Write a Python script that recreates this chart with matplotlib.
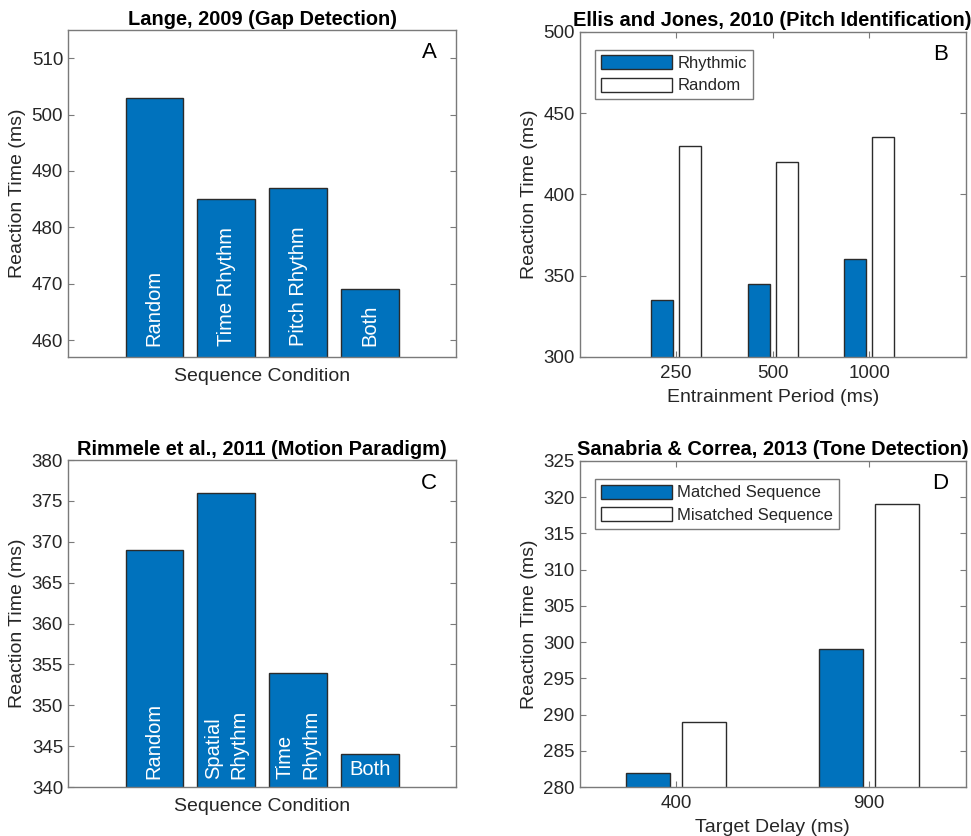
import numpy as np
import matplotlib
matplotlib.use('Agg')
import matplotlib.pyplot as plt

plt.rcParams['font.family'] = ['Liberation Sans', 'DejaVu Sans']

# reaction times (ms) for each study
lange_conditions = ['Random', 'Time Rhythm', 'Pitch Rhythm', 'Both']
lange_rt = [503, 485, 487, 469]

ellis_periods = ['250', '500', '1000']
ellis_rhythmic = [335, 345, 360]
ellis_random = [430, 420, 435]

rimmele_conditions = ['Random', 'Spatial\nRhythm', 'Time\nRhythm', 'Both']
rimmele_rt = [369, 376, 354, 344]

sanabria_delays = ['400', '900']
sanabria_matched = [282, 299]
sanabria_mismatched = [289, 319]

BLUE = '#0072BD'
EDGE = '#2b2b2b'
AXCOL = '#7a7a7a'
TXT = '#262626'


def style_axes(ax, xticks=True):
    for sp in ax.spines.values():
        sp.set_color(AXCOL)
        sp.set_linewidth(1.0)
    ax.tick_params(axis='y', direction='in', left=True, right=True,
                   length=4, color=AXCOL, labelsize=13.5, labelcolor=TXT)
    if xticks:
        ax.tick_params(axis='x', direction='in', bottom=True, top=True,
                       length=4, color=AXCOL, labelsize=13.5, labelcolor=TXT,
                       pad=6)
    else:
        ax.tick_params(axis='x', bottom=False, labelbottom=False)
    ax.set_ylabel('Reaction Time (ms)', fontsize=14, color=TXT)


def condition_panel(ax, labels, values, ylim, yticks, title, letter,
                    label_base, upright=()):
    x = np.arange(1, len(values) + 1)
    ax.bar(x, values, width=0.8, color=BLUE, edgecolor=EDGE, linewidth=1.0)
    for xi, lab in zip(x, labels):
        if lab in upright:
            ax.text(xi, label_base, lab, ha='center', va='bottom',
                    color='white', fontsize=14.5)
        else:
            ax.text(xi, label_base, lab, rotation=90, ha='center', va='bottom',
                    multialignment='left', linespacing=1.45, color='white',
                    fontsize=14.5)
    ax.set_xlim(-0.2, 5.2)
    ax.set_ylim(*ylim)
    ax.set_yticks(yticks)
    style_axes(ax, xticks=False)
    ax.set_xlabel('Sequence Condition', fontsize=14, color=TXT, labelpad=8)
    ax.set_title(title, fontsize=14.4, fontweight='bold', pad=4)
    ax.text(0.93, 0.93, letter, transform=ax.transAxes, ha='center',
            va='center', fontsize=16, color='black')


def grouped_panel(ax, ticklabels, first, second, names, xlim, ylim, yticks,
                  title, letter, xlabel):
    x = np.arange(1, len(first) + 1)
    ax.bar(x - 0.145, first, width=0.23, color=BLUE, edgecolor=EDGE,
           linewidth=1.0, label=names[0])
    ax.bar(x + 0.145, second, width=0.23, color='white', edgecolor=EDGE,
           linewidth=1.0, label=names[1])
    ax.set_xlim(*xlim)
    ax.set_ylim(*ylim)
    ax.set_yticks(yticks)
    ax.set_xticks(x)
    ax.set_xticklabels(ticklabels)
    style_axes(ax)
    ax.set_xlabel(xlabel, fontsize=14, color=TXT, labelpad=5)
    ax.set_title(title, fontsize=14.4, fontweight='bold', pad=4)
    ax.text(0.935, 0.93, letter, transform=ax.transAxes, ha='center',
            va='center', fontsize=16, color='black')
    leg = ax.legend(loc='upper left', bbox_to_anchor=(0.039, 0.945),
                    fontsize=12, handlelength=4.3, handleheight=0.9,
                    handletextpad=0.3, borderpad=0.35, labelspacing=0.4,
                    fancybox=False, framealpha=1, edgecolor=AXCOL,
                    borderaxespad=0)
    leg.get_frame().set_linewidth(1.0)
    for t in leg.get_texts():
        t.set_color(TXT)


fig = plt.figure(figsize=(9.71, 8.36), dpi=100)
ax_a = fig.add_axes([0.070, 0.573, 0.400, 0.391])
ax_b = fig.add_axes([0.597, 0.573, 0.3975, 0.389])
ax_c = fig.add_axes([0.070, 0.0586, 0.400, 0.391])
ax_d = fig.add_axes([0.597, 0.0586, 0.3975, 0.390])

condition_panel(ax_a, lange_conditions, lange_rt, (457, 515),
                np.arange(460, 511, 10), 'Lange, 2009 (Gap Detection)', 'A', 459)
grouped_panel(ax_b, ellis_periods, ellis_rhythmic, ellis_random,
              ['Rhythmic', 'Random'], (0, 4), (300, 500),
              np.arange(300, 501, 50),
              'Ellis and Jones, 2010 (Pitch Identification)', 'B',
              'Entrainment Period (ms)')
condition_panel(ax_c, rimmele_conditions, rimmele_rt, (340, 380),
                np.arange(340, 381, 5), 'Rimmele et al., 2011 (Motion Paradigm)',
                'C', 341.0, upright=('Both',))
grouped_panel(ax_d, sanabria_delays, sanabria_matched, sanabria_mismatched,
              ['Matched Sequence', 'Misatched Sequence'], (0.5, 2.5), (280, 325),
              np.arange(280, 326, 5),
              'Sanabria & Correa, 2013 (Tone Detection)', 'D', 'Target Delay (ms)')

fig.savefig('out.png', dpi=100, facecolor='white')
